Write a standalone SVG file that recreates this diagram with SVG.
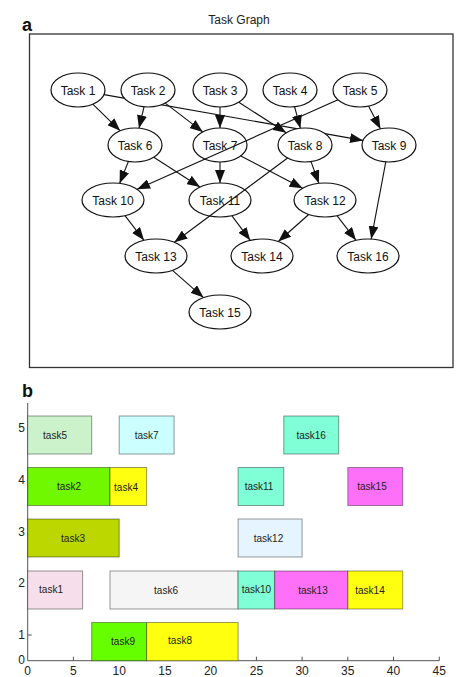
<svg xmlns="http://www.w3.org/2000/svg" width="474" height="677" viewBox="0 0 474 677">
<style>
  text { font-family: "Liberation Sans", Arial, sans-serif; }
  .lbl { font-size: 18px; font-weight: bold; fill: #111; }
  .title { font-size: 12px; fill: #222; text-anchor: middle; }
  .node ellipse { fill: #fff; stroke: #111; stroke-width: 1.2; }
  .node text { font-size: 12px; fill: #111; text-anchor: middle; }
  .edges line { stroke: #111; stroke-width: 1.1; marker-end: url(#arr); }
  .bar rect { stroke: #000; stroke-opacity: 0.4; stroke-width: 1; }
  .bar text { font-size: 10px; fill: #222; text-anchor: middle; }
  .axis { stroke: #555; stroke-width: 1; fill: none; }
  .tick { font-size: 12px; fill: #222; }
</style>
<defs>
  <marker id="arr" markerUnits="userSpaceOnUse" markerWidth="13" markerHeight="10" refX="13" refY="5" orient="auto">
    <path d="M0,0 L13,5 L0,10 z" fill="#111"/>
  </marker>
</defs>
<rect x="0" y="0" width="474" height="677" fill="#fff"/>

<!-- Panel a -->
<text class="lbl" x="22" y="31">a</text>
<text class="title" x="239" y="24">Task Graph</text>
<rect x="29.5" y="34" width="423.5" height="333.5" fill="#fff" stroke="#333" stroke-width="1.3"/>

<g class="edges" id="edges">
  <line x1="92.8" y1="104.2" x2="120.2" y2="130.8"/>
  <line x1="104" y1="94.6" x2="363" y2="140.4"/>
  <line x1="144" y1="106.8" x2="139" y2="128.2"/>
  <line x1="165.2" y1="103.1" x2="202.8" y2="131.9"/>
  <line x1="220" y1="107" x2="220" y2="128"/>
  <line x1="238.8" y1="102.2" x2="286.2" y2="132.8"/>
  <line x1="294.6" y1="106.8" x2="300.4" y2="128.2"/>
  <line x1="368.5" y1="106.1" x2="380.5" y2="128.9"/>
  <line x1="338" y1="99.8" x2="137.1" y2="189.3"/>
  <line x1="128.4" y1="161.5" x2="119.6" y2="183.4"/>
  <line x1="153.8" y1="157.2" x2="200" y2="187"/>
  <line x1="220" y1="162" x2="220" y2="183"/>
  <line x1="240.8" y1="155.9" x2="302.6" y2="188.3"/>
  <line x1="311" y1="161.6" x2="318.9" y2="183.3"/>
  <line x1="287.6" y1="158" x2="174.4" y2="242.3"/>
  <line x1="385.8" y1="161.9" x2="371.2" y2="239.1"/>
  <line x1="125" y1="215.7" x2="144" y2="240.3"/>
  <line x1="231.8" y1="215.7" x2="250.2" y2="240.3"/>
  <line x1="308.7" y1="214.5" x2="278.3" y2="241.5"/>
  <line x1="337" y1="215.7" x2="356" y2="240.3"/>
  <line x1="172.5" y1="270.4" x2="203.5" y2="297.6"/>
</g>

<g class="node" id="task1"><ellipse cx="78" cy="90" rx="27" ry="17"/><text x="78" y="94.5">Task 1</text></g>
<g class="node" id="task2"><ellipse cx="148" cy="90" rx="27" ry="17"/><text x="148" y="94.5">Task 2</text></g>
<g class="node" id="task3"><ellipse cx="220" cy="90" rx="27" ry="17"/><text x="220" y="94.5">Task 3</text></g>
<g class="node" id="task4"><ellipse cx="290" cy="90" rx="27" ry="17"/><text x="290" y="94.5">Task 4</text></g>
<g class="node" id="task5"><ellipse cx="360" cy="90" rx="27" ry="17"/><text x="360" y="94.5">Task 5</text></g>
<g class="node" id="task6"><ellipse cx="135" cy="145" rx="27" ry="17"/><text x="135" y="149.5">Task 6</text></g>
<g class="node" id="task7"><ellipse cx="220" cy="145" rx="27" ry="17" fill-opacity="0"/><text x="220" y="149.5">Task 7</text></g>
<g class="node" id="task8"><ellipse cx="305" cy="145" rx="27" ry="17"/><text x="305" y="149.5">Task 8</text></g>
<g class="node" id="task9"><ellipse cx="389" cy="145" rx="27" ry="17"/><text x="389" y="149.5">Task 9</text></g>
<g class="node" id="task10"><ellipse cx="113" cy="200" rx="31" ry="17"/><text x="113" y="204.5">Task 10</text></g>
<g class="node" id="task11"><ellipse cx="220" cy="200" rx="31" ry="17" fill-opacity="0"/><text x="220" y="204.5">Task 11</text></g>
<g class="node" id="task12"><ellipse cx="325" cy="200" rx="31" ry="17"/><text x="325" y="204.5">Task 12</text></g>
<g class="node" id="task13"><ellipse cx="156" cy="256" rx="31" ry="17"/><text x="156" y="260.5">Task 13</text></g>
<g class="node" id="task14"><ellipse cx="262" cy="256" rx="31" ry="17"/><text x="262" y="260.5">Task 14</text></g>
<g class="node" id="task16"><ellipse cx="368" cy="256" rx="31" ry="17"/><text x="368" y="260.5">Task 16</text></g>
<g class="node" id="task15"><ellipse cx="220" cy="312" rx="31" ry="17"/><text x="220" y="316.5">Task 15</text></g>

<!-- Panel b -->
<text class="lbl" x="22" y="397">b</text>
<g id="axes">
  <line class="axis" x1="27.7" y1="403" x2="27.7" y2="660.7"/>
  <line class="axis" x1="27.7" y1="660.7" x2="439.3" y2="660.7"/>
  <path class="axis" d="M27.7,635 h4 M73.4,660.7 v-4 M119.2,660.7 v-4 M164.9,660.7 v-4 M210.6,660.7 v-4 M256.4,660.7 v-4 M302.1,660.7 v-4 M347.8,660.7 v-4 M393.5,660.7 v-4 M439.3,660.7 v-4"/>
  <g class="tick" text-anchor="end">
    <text x="25" y="432">5</text>
    <text x="25" y="484">4</text>
    <text x="25" y="536">3</text>
    <text x="25" y="587">2</text>
    <text x="25" y="639">1</text>
    <text x="25" y="664">0</text>
  </g>
  <g class="tick" text-anchor="middle">
    <text x="27.7" y="675">0</text>
    <text x="73.4" y="675">5</text>
    <text x="119.2" y="675">10</text>
    <text x="164.9" y="675">15</text>
    <text x="210.6" y="675">20</text>
    <text x="256.4" y="675">25</text>
    <text x="302.1" y="675">30</text>
    <text x="347.8" y="675">35</text>
    <text x="393.5" y="675">40</text>
    <text x="439.3" y="675">45</text>
  </g>
</g>

<g class="bar" id="bar-task5"><rect x="27.7" y="416" width="64" height="38" fill="#ccf2cc"/><text x="55" y="438.5">task5</text></g>
<g class="bar" id="bar-task7"><rect x="119.2" y="416" width="54.9" height="38" fill="#ccffff"/><text x="146.6" y="438.5">task7</text></g>
<g class="bar" id="bar-task16"><rect x="283.8" y="416" width="54.9" height="38" fill="#80ffd6"/><text x="311.2" y="438.5" fill="#105040">task16</text></g>

<g class="bar" id="bar-task2"><rect x="27.7" y="467.5" width="82.3" height="38" fill="#70f800"/><text x="69" y="490" fill="#1a5a10">task2</text></g>
<g class="bar" id="bar-task4"><rect x="110" y="467.5" width="36.6" height="38" fill="#ffff10"/><text x="126" y="491">task4</text></g>
<g class="bar" id="bar-task11"><rect x="238.1" y="467.5" width="45.7" height="38" fill="#80ffd6"/><text x="259" y="490">task11</text></g>
<g class="bar" id="bar-task15"><rect x="347.8" y="467.5" width="54.9" height="38" fill="#ff70f8"/><text x="372" y="490" fill="#301030">task15</text></g>

<g class="bar" id="bar-task3"><rect x="27.7" y="519" width="91.5" height="38" fill="#bcd600"/><text x="73" y="541.5">task3</text></g>
<g class="bar" id="bar-task12"><rect x="238.1" y="519" width="64" height="38" fill="#e6f4ff"/><text x="268.5" y="541.5">task12</text></g>

<g class="bar" id="bar-task1"><rect x="27.7" y="571" width="54.9" height="38" fill="#f6dfea"/><text x="51" y="593">task1</text></g>
<g class="bar" id="bar-task6"><rect x="110" y="571" width="128.1" height="38" fill="#f5f5f5"/><text x="166" y="594">task6</text></g>
<g class="bar" id="bar-task10"><rect x="238.1" y="571" width="36.6" height="38" fill="#80ffd6"/><text x="256.4" y="593" fill="#104040">task10</text></g>
<g class="bar" id="bar-task13"><rect x="274.7" y="571" width="73.1" height="38" fill="#ff70f8"/><text x="313" y="594" fill="#401040">task13</text></g>
<g class="bar" id="bar-task14"><rect x="347.8" y="571" width="54.9" height="38" fill="#ffff10"/><text x="370" y="594">task14</text></g>

<g class="bar" id="bar-task9"><rect x="91.7" y="622.5" width="54.9" height="38.2" fill="#66ff00"/><text x="123" y="645" fill="#106050">task9</text></g>
<g class="bar" id="bar-task8"><rect x="146.6" y="622.5" width="91.5" height="38.2" fill="#ffff10"/><text x="180" y="644">task8</text></g>
</svg>
